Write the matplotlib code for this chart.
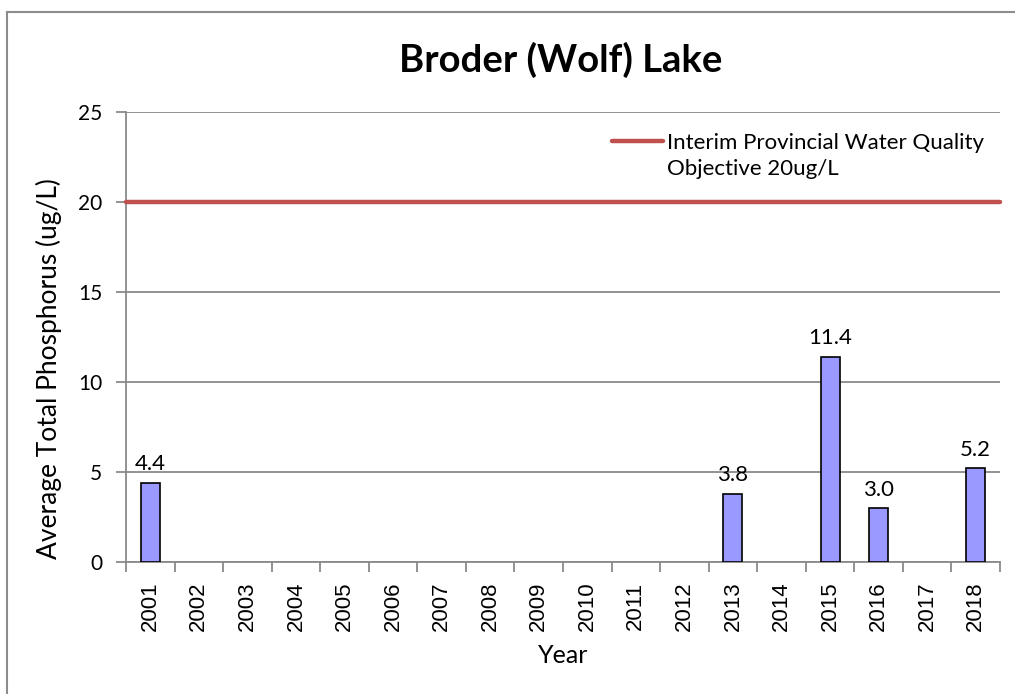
import numpy as np
import matplotlib
matplotlib.use("Agg")
import matplotlib.pyplot as plt
from matplotlib.lines import Line2D

plt.rcParams['font.family'] = ['Lato', 'DejaVu Sans']

# Data
years = [str(y) for y in range(2001, 2019)]
phosphorus = [4.4, None, None, None, None, None, None, None, None, None, None, None,
              3.8, None, 11.4, 3.0, None, 5.2]
objective = 20
objective_label = "Interim Provincial Water Quality\nObjective 20ug/L"
title = "Broder (Wolf) Lake"
y_ticks = [0, 5, 10, 15, 20, 25]

GRID = '#8a8a8a'
RED = '#C0504D'

fig = plt.figure(figsize=(10.15, 6.94), dpi=100)
ax = fig.add_axes([126 / 1015, 1 - 562 / 694, (1000 - 126) / 1015, (562 - 112) / 694])

x = np.arange(len(years))
vals = np.array([v if v is not None else np.nan for v in phosphorus])
mask = ~np.isnan(vals)
ax.bar(x[mask], vals[mask], width=0.39, color='#9999FF', edgecolor='black', linewidth=1.2, zorder=3)
for xi, v in zip(x[mask], vals[mask]):
    ax.annotate(f"{v:.1f}", (xi, v), xytext=(0, 6), textcoords='offset points',
                ha='center', va='bottom', fontsize=16)

# objective line across the whole plot
ax.plot([-0.5, len(years) - 0.5], [objective, objective], color=RED, lw=3.2,
        solid_capstyle='round', zorder=4, clip_on=False)

ax.set_xlim(-0.5, len(years) - 0.5)
ax.set_ylim(0, 25)
ax.set_yticks(y_ticks)
ax.yaxis.grid(True, color=GRID, lw=1.3)
ax.set_axisbelow(True)

ax.set_xticks(x)
ax.set_xticklabels(years, rotation=90, fontsize=16, family=['Liberation Sans', 'DejaVu Sans'])
ax.set_xticks(np.arange(-0.5, len(years)), minor=True)
ax.tick_params(axis='x', which='major', length=0, pad=14)
ax.tick_params(axis='x', which='minor', length=7, width=1.3, color=GRID, direction='out')
ax.tick_params(axis='y', length=7, width=1.3, color=GRID, labelsize=15, pad=10)

for s in ['top', 'right']:
    ax.spines[s].set_visible(False)
for s in ['left', 'bottom']:
    ax.spines[s].set_color(GRID)
    ax.spines[s].set_linewidth(1.3)

ax.set_ylabel("Average Total Phosphorus (ug/L)", fontsize=19)
ax.yaxis.set_label_coords(-0.073, 0.429)
ax.set_xlabel("Year", fontsize=18)
ax.xaxis.set_label_coords(0.5, -0.182)

# legend drawn by hand: handle sits on the first text line like Excel
ax.add_line(Line2D([0.556, 0.614], [0.936, 0.936], color=RED, lw=3.2,
                   solid_capstyle='round', transform=ax.transAxes))
ax.text(0.619, 0.953, objective_label, transform=ax.transAxes, ha='left', va='top',
        fontsize=16, linespacing=1.35)

fig.text(561 / 1015, 1 - 72 / 694, title, ha='center', va='baseline', fontsize=27.5, fontweight='bold')

# outer chart frame (left and top edges visible)
fx = 7 / 1015
fy = 1 - 12 / 694
fig.add_artist(Line2D([fx, fx], [0, fy], color='#8c8c8c', lw=1.5, transform=fig.transFigure))
fig.add_artist(Line2D([fx, 1], [fy, fy], color='#8c8c8c', lw=1.5, transform=fig.transFigure))

fig.savefig('out.png', dpi=100, facecolor='white')
